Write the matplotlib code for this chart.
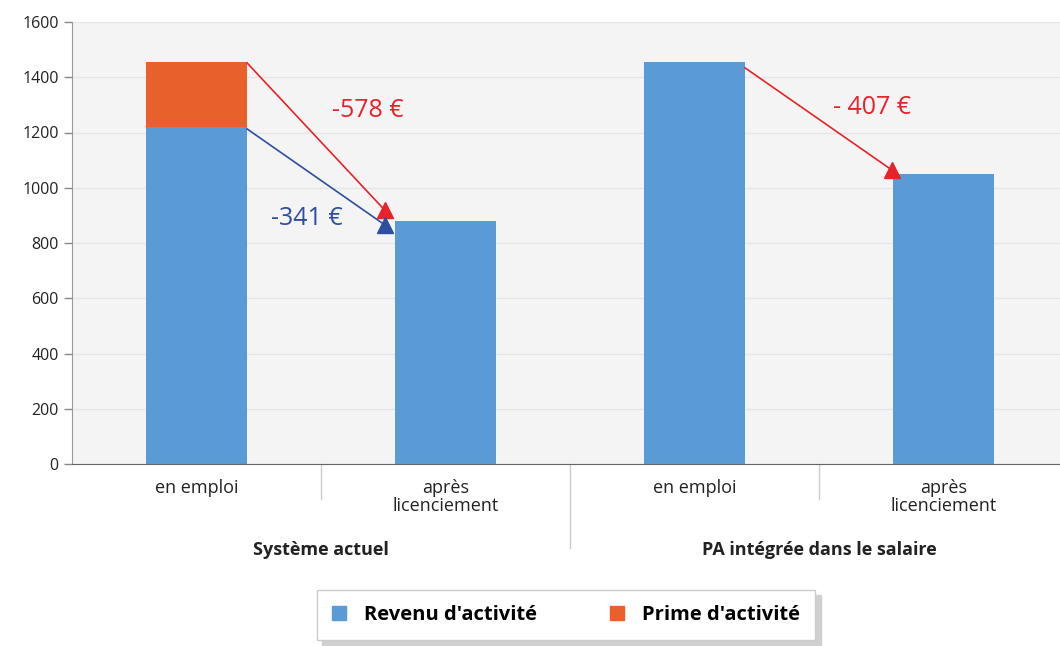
import matplotlib.pyplot as plt
import matplotlib.patches as mpatches

plt.rcParams['font.family'] = ['Open Sans', 'DejaVu Sans']

# donnees
categories = ["en emploi", "après\nlicenciement", "en emploi", "après\nlicenciement"]
groupes = ["Système actuel", "PA intégrée dans le salaire"]
revenu = [1219, 878, 1456, 1049]
prime = [237, 0, 0, 0]
ecarts = ["-578 €", "-341 €", "- 407 €"]

bleu = "#5b9bd5"
orange = "#e8602c"
rouge = "#e8222a"
bleu_fonce = "#2e4ea0"

fig = plt.figure(figsize=(10.6, 6.46), dpi=100)
ax = fig.add_axes([72 / 1060, 1 - 464 / 646, 996 / 1060, 442 / 646])
ax.set_facecolor("#f4f4f4")

x = range(len(categories))
ax.bar(x, revenu, width=0.405, color=bleu, zorder=2)
ax.bar(x, prime, width=0.405, bottom=revenu, color=orange, zorder=2)

ax.set_xlim(-0.5, 3.5)
ax.set_ylim(0, 1600)
ax.set_yticks(range(0, 1601, 200))
ax.tick_params(axis="y", labelsize=11.5, colors="#888888", labelcolor="#222222", length=6, width=1)
ax.tick_params(axis="x", length=0)
ax.set_xticks([])
ax.grid(axis="y", color="#e6e6e6", linewidth=1, zorder=0)
for s in ["top", "right"]:
    ax.spines[s].set_visible(False)
ax.spines["left"].set_color("#999999")
ax.spines["bottom"].set_color("#666666")

# libelles des categories
for i, c in enumerate(categories):
    ax.text(i, -55, c, ha="center", va="top", fontsize=13, color="#222222",
            linespacing=1.0)
for j, g in enumerate(groupes):
    ax.text(0.5 + 2 * j, -280, g, ha="center", va="top", fontsize=13,
            fontweight="bold", color="#222222")
# separateurs
for xs, yb in [(0.5, -125), (1.5, -305), (2.5, -125)]:
    ax.plot([xs, xs], [0, yb], color="#cccccc", lw=1, clip_on=False)

# fleches : ligne + triangle
def fleche(x0, y0, x1, y1, col):
    ax.plot([x0, x1], [y0, y1], color=col, lw=1.2, zorder=4)
    ax.plot([x1], [y1], marker="^", color=col, markersize=11, zorder=5)

fleche(0.203, 1452, 0.757, 918, rouge)
fleche(0.203, 1213, 0.757, 865, bleu_fonce)
fleche(2.203, 1434, 2.793, 1064, rouge)

ax.text(0.689, 1281, ecarts[0], color=rouge, fontsize=18, ha="center", va="center")
ax.text(0.444, 890, ecarts[1], color=bleu_fonce, fontsize=18, ha="center", va="center")
ax.text(2.713, 1289, ecarts[2], color=rouge, fontsize=18, ha="center", va="center")

# legende
poignees = [mpatches.Patch(color=bleu, label="Revenu d'activité"),
            mpatches.Patch(color=orange, label="Prime d'activité")]
leg = fig.legend(handles=poignees, loc="center", bbox_to_anchor=(566 / 1060, 1 - 615 / 646),
                 ncol=2, frameon=True, fancybox=False,
                 shadow={"color": "#d0d0d0", "ox": 4, "oy": -4, "alpha": 1},
                 prop={"size": 14.5, "weight": "bold"}, handlelength=0.7,
                 handleheight=0.7, columnspacing=3.6, borderpad=0.75,
                 handletextpad=0.9)
frame = leg.get_frame()
frame.set_edgecolor("#cccccc")
frame.set_linewidth(1)

fig.savefig("out.png", dpi=100)
